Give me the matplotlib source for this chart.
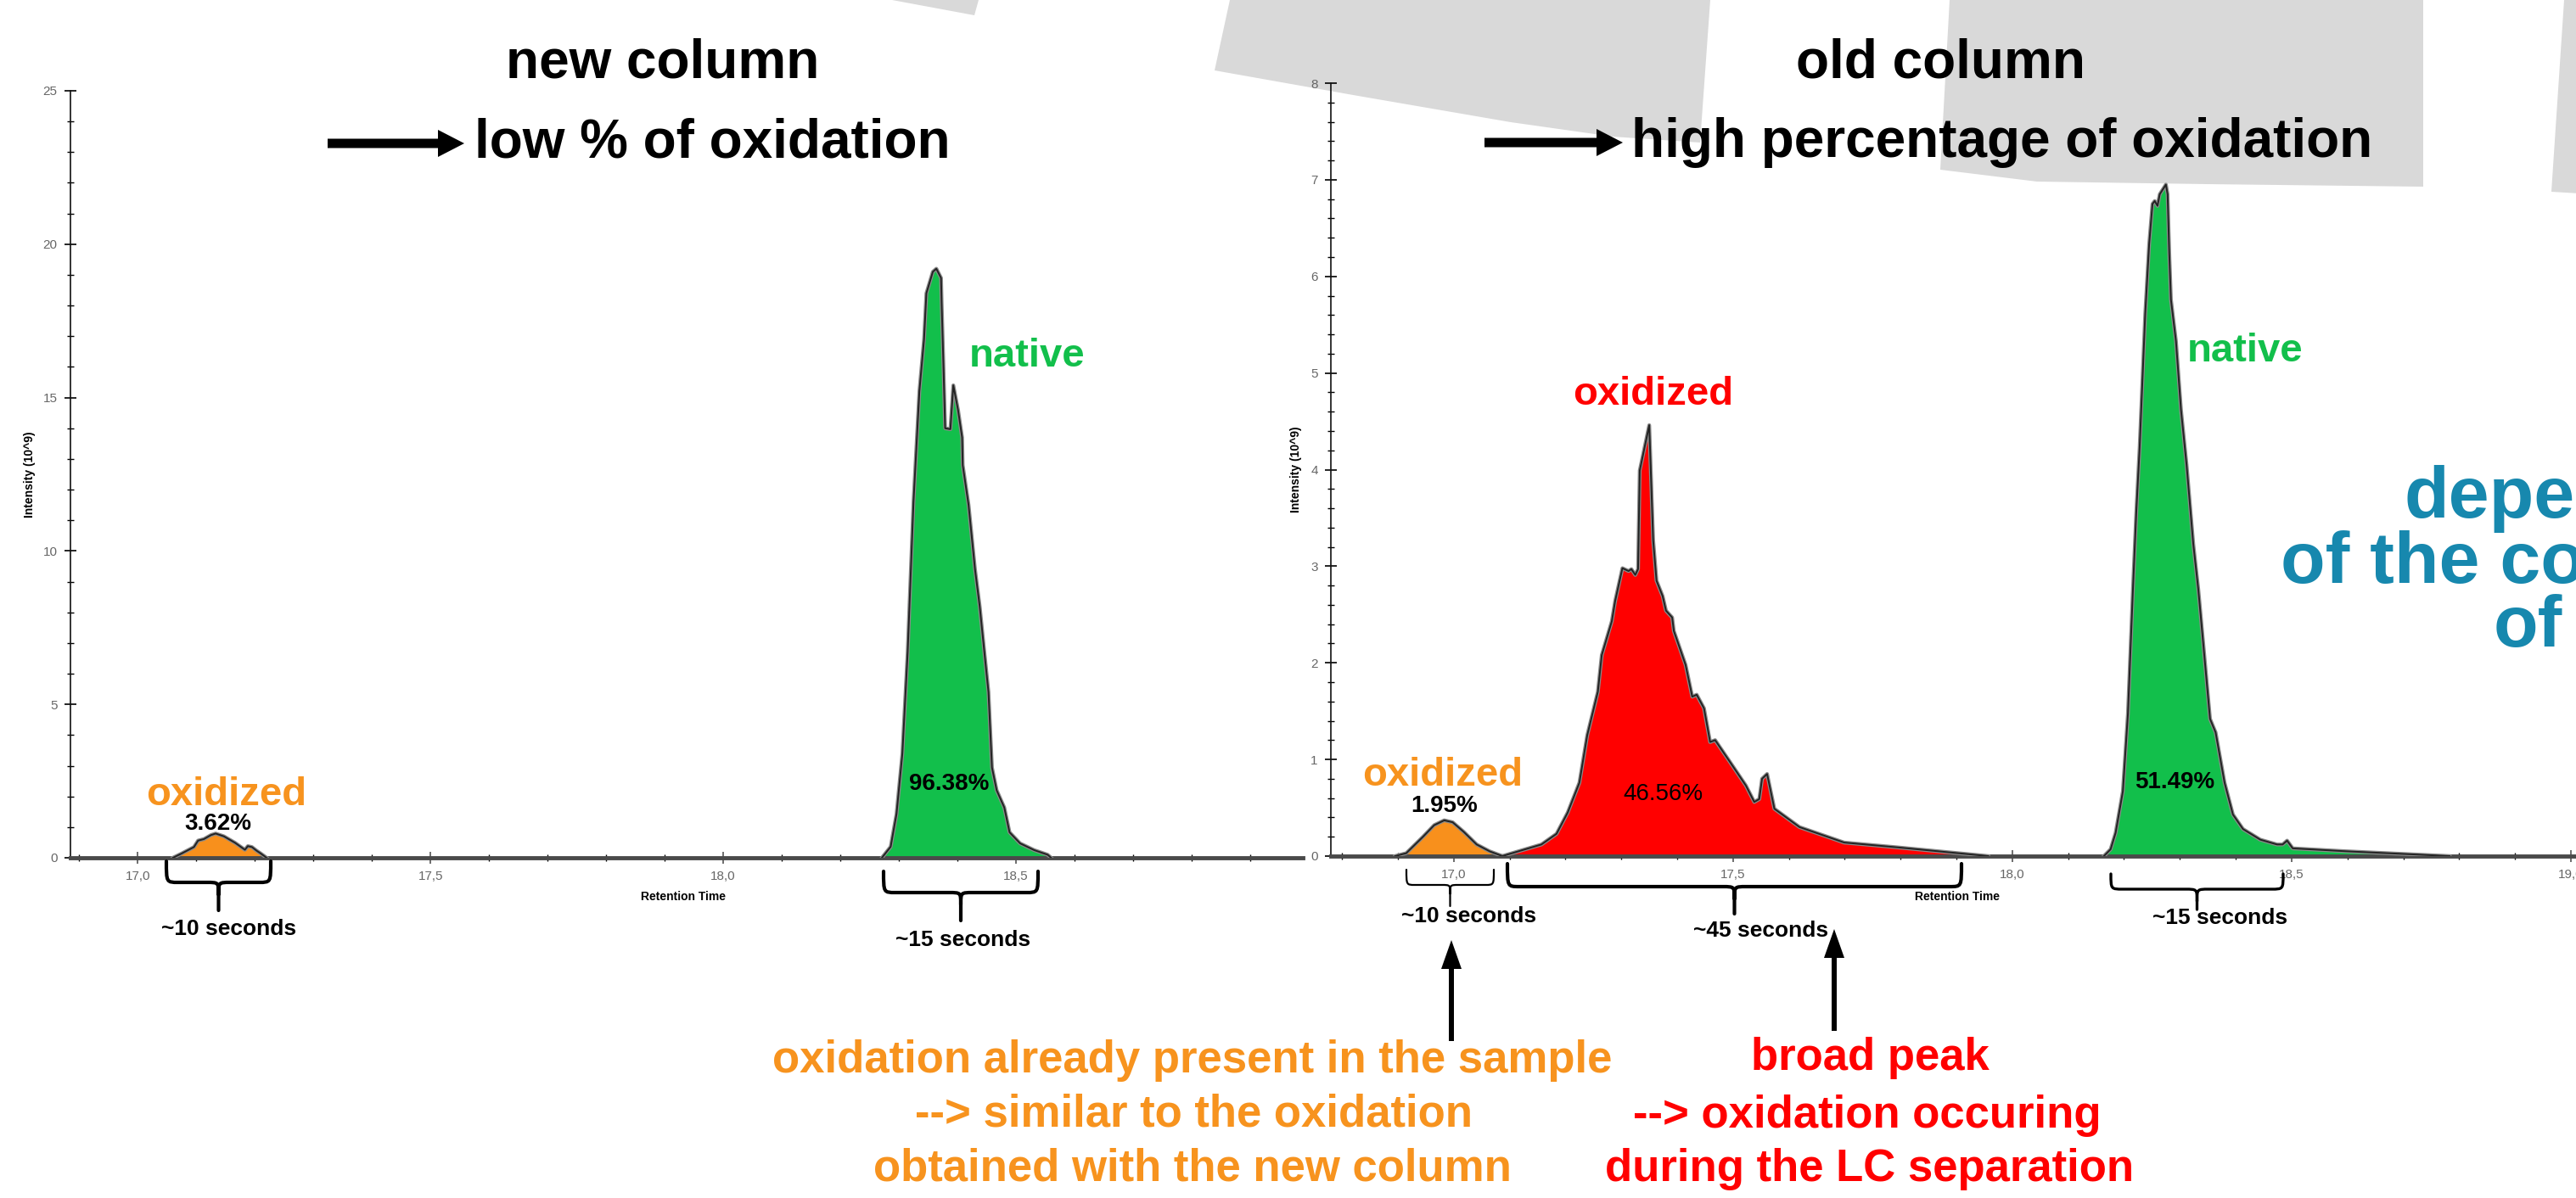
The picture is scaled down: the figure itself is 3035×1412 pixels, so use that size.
import numpy as np
import matplotlib
matplotlib.use("Agg")
import matplotlib.pyplot as plt
from matplotlib.patches import Polygon, PathPatch
from matplotlib.path import Path
from matplotlib.ticker import MultipleLocator, FixedLocator, FixedFormatter

plt.rcParams['font.family'] = ['Liberation Sans', 'DejaVu Sans']

W, H = 3035, 1412

# ---------------- data ----------------
# left panel: new column
left_ox_time = [17.060, 17.075, 17.087, 17.096, 17.103, 17.113, 17.125, 17.133, 17.147,
                17.166, 17.183, 17.188, 17.195, 17.203, 17.210, 17.220]
left_ox_int = [0.0, 0.14, 0.26, 0.35, 0.56, 0.61, 0.74, 0.79, 0.70,
               0.49, 0.26, 0.38, 0.35, 0.23, 0.14, 0.0]

left_nat_time = [18.271, 18.286, 18.296, 18.306, 18.315, 18.325, 18.335, 18.343, 18.347,
                 18.358, 18.364, 18.372, 18.373, 18.376, 18.379, 18.388, 18.393, 18.401,
                 18.408, 18.409, 18.419, 18.430, 18.438, 18.446, 18.453, 18.459, 18.467,
                 18.480, 18.489, 18.507, 18.531, 18.554, 18.560]
left_nat_int = [0.0, 0.36, 1.43, 3.4, 6.7, 11.6, 15.2, 16.9, 18.4,
                19.1, 19.2, 18.9, 18.1, 16.1, 14.0, 13.97, 15.4, 14.6,
                13.7, 12.8, 11.5, 9.4, 8.2, 6.7, 5.4, 2.94, 2.2,
                1.64, 0.83, 0.47, 0.25, 0.1, 0.0]

# right panel: old column
right_ox1_time = [16.895, 16.915, 16.945, 16.965, 16.983, 16.998, 17.018, 17.041, 17.064, 17.087]
right_ox1_int = [0.0, 0.03, 0.20, 0.32, 0.37, 0.35, 0.25, 0.12, 0.05, 0.0]

right_ox2_time = [17.087, 17.157, 17.184, 17.204, 17.225, 17.239, 17.258, 17.265, 17.283,
                  17.289, 17.302, 17.313, 17.318, 17.325, 17.330, 17.333, 17.350, 17.357,
                  17.363, 17.374, 17.380, 17.391, 17.394, 17.415, 17.427, 17.435, 17.448,
                  17.459, 17.468, 17.495, 17.523, 17.538, 17.547, 17.552, 17.561, 17.574,
                  17.619, 17.699, 17.795, 17.957]
right_ox2_int = [0.0, 0.12, 0.23, 0.45, 0.76, 1.25, 1.70, 2.08, 2.43,
                 2.64, 2.98, 2.95, 2.97, 2.91, 2.97, 3.99, 4.46, 3.27,
                 2.85, 2.69, 2.54, 2.47, 2.33, 1.98, 1.65, 1.67, 1.53,
                 1.18, 1.20, 0.97, 0.73, 0.56, 0.59, 0.80, 0.85, 0.49,
                 0.30, 0.14, 0.09, 0.0]

right_nat_time = [18.164, 18.176, 18.185, 18.198, 18.207, 18.216, 18.222, 18.228, 18.238,
                  18.245, 18.251, 18.255, 18.260, 18.264, 18.275, 18.278, 18.281, 18.284,
                  18.293, 18.302, 18.312, 18.324, 18.333, 18.342, 18.354, 18.364, 18.380,
                  18.395, 18.413, 18.444, 18.474, 18.484, 18.492, 18.502, 18.597, 18.783]
right_nat_int = [0.0, 0.07, 0.24, 0.67, 1.47, 2.76, 3.56, 4.23, 5.61,
                 6.33, 6.75, 6.78, 6.73, 6.85, 6.95, 6.85, 6.24, 5.76,
                 5.33, 4.62, 4.05, 3.23, 2.76, 2.19, 1.42, 1.28, 0.76,
                 0.43, 0.28, 0.17, 0.12, 0.12, 0.16, 0.08, 0.05, 0.0]

left_xticks = [17.0, 17.5, 18.0, 18.5]
left_xticklabels = ["17,0", "17,5", "18,0", "18,5"]
left_yticks = [0, 5, 10, 15, 20, 25]
right_xticks = [17.0, 17.5, 18.0, 18.5, 19.0]
right_xticklabels = ["17,0", "17,5", "18,0", "18,5", "19,0"]
right_yticks = [0, 1, 2, 3, 4, 5, 6, 7, 8]

# ---------------- style ----------------
ORANGE = '#F8901C'
ORANGE_T = '#F7931E'
GREEN = '#12BF4B'
RED = '#FF0000'
BLUE = '#1788AE'
GRAY_BG = '#D9D9D9'


def fx(x):
    return x / W


def fy(y):
    return 1 - y / H


def pts(lst):
    return [(fx(x), fy(y)) for x, y in lst]


fig = plt.figure(figsize=(W / 100, H / 100), dpi=100)
fig.patch.set_facecolor('white')

# background slide shapes
shapes = [
    [(1051, 0), (1153, 0), (1148, 18)],
    [(1449, 0), (2015, 0), (2003, 168), (1900, 161), (1780, 144), (1600, 113), (1431, 83)],
    [(2297, 0), (2855, 0), (2855, 220), (2600, 217), (2400, 214), (2286, 200)],
    [(3021, 0), (3040, 0), (3040, 228), (3006, 226)],
]
for s in shapes:
    fig.patches.append(Polygon(pts(s), closed=True, transform=fig.transFigure,
                               facecolor=GRAY_BG, edgecolor='none', zorder=-5))


def make_axes(x0, x1, y0, y1):
    ax = fig.add_axes([fx(x0), fy(y0), (x1 - x0) / W, (y0 - y1) / H])
    ax.set_zorder(2)
    ax.set_facecolor('none')
    ax.patch.set_alpha(0)
    for s in ['top', 'right']:
        ax.spines[s].set_visible(False)
    ax.spines['left'].set_color('#111111')
    ax.spines['left'].set_linewidth(1.2)
    ax.spines['bottom'].set_color('#4a4a4a')
    ax.spines['bottom'].set_linewidth(3.5)
    ax.tick_params(axis='both', which='major', direction='inout', length=10, width=1.2,
                   labelsize=11, labelcolor='#666666', pad=6)
    ax.tick_params(axis='both', which='minor', direction='inout', length=6, width=1.0)
    ax.tick_params(axis='x', colors='#555555', labelcolor='#666666')
    return ax


def draw_peak(ax, t, v, color):
    ax.fill_between(t, v, 0, color=color, lw=0, zorder=2)
    ax.plot(t, v, color='#8a8a8a', lw=3.2, zorder=3, solid_joinstyle='round')
    ax.plot(t, v, color='#222222', lw=1.4, zorder=4, solid_joinstyle='round')


# left panel
ax1 = make_axes(83, 1535, 1011, 107)
ax1.set_xlim(16.885, 18.99)
ax1.set_ylim(0, 25)
ax1.xaxis.set_major_locator(FixedLocator(left_xticks))
ax1.xaxis.set_major_formatter(FixedFormatter(left_xticklabels))
ax1.xaxis.set_minor_locator(MultipleLocator(0.1))
ax1.yaxis.set_major_locator(FixedLocator(left_yticks))
ax1.yaxis.set_minor_locator(MultipleLocator(1))
draw_peak(ax1, left_ox_time, left_ox_int, ORANGE)
draw_peak(ax1, left_nat_time, left_nat_int, GREEN)
ax1.set_ylabel('Intensity (10^9)', fontsize=10, fontweight='bold')
ax1.yaxis.set_label_coords(-0.028, 0.5)
ax1.set_xlabel('Retention Time', fontsize=10, fontweight='bold')
ax1.xaxis.set_label_coords(0.497, -0.043)

# right panel
ax2 = make_axes(1568, 3100, 1009, 98)
ax2.set_xlim(16.78, 19.108)
ax2.set_ylim(0, 8)
ax2.xaxis.set_major_locator(FixedLocator(right_xticks))
ax2.xaxis.set_major_formatter(FixedFormatter(right_xticklabels))
ax2.xaxis.set_minor_locator(MultipleLocator(0.1))
ax2.yaxis.set_major_locator(FixedLocator(right_yticks))
ax2.yaxis.set_minor_locator(MultipleLocator(0.2))
draw_peak(ax2, right_ox1_time, right_ox1_int, ORANGE)
draw_peak(ax2, right_ox2_time, right_ox2_int, RED)
draw_peak(ax2, right_nat_time, right_nat_int, GREEN)
ax2.set_ylabel('Intensity (10^9)', fontsize=10, fontweight='bold')
ax2.yaxis.set_label_coords(-0.022, 0.5)
ax2.set_xlabel('Retention Time', fontsize=10, fontweight='bold')
ax2.xaxis.set_label_coords(0.482, -0.045)


# ---------------- annotations ----------------
def txt(x, y, s, size, color='black', weight='bold', ha='center', va='center', **kw):
    fig.text(fx(x), fy(y), s, fontsize=size, color=color, fontweight=weight,
             ha=ha, va=va, zorder=10, **kw)


# titles
txt(781, 75, 'new column', 46)
txt(559, 169, 'low % of oxidation', 46, ha='left')
txt(2286, 75, 'old column', 46)
txt(1922, 168, 'high percentage of oxidation', 46, ha='left')


def h_arrow(x0, x1, y, t=11, hh=16, hl=31):
    xh = x1 - hl
    p = [(x0, y - t / 2), (xh, y - t / 2), (xh, y - hh), (x1, y), (xh, y + hh),
         (xh, y + t / 2), (x0, y + t / 2)]
    fig.patches.append(Polygon(pts(p), closed=True, transform=fig.transFigure,
                               facecolor='black', edgecolor='none', zorder=10))


def v_arrow(x, y0, y1, t=6, hw=12, hl=34):
    yh = y1 + hl
    p = [(x - t / 2, y0), (x - t / 2, yh), (x - hw, yh), (x, y1), (x + hw, yh),
         (x + t / 2, yh), (x + t / 2, y0)]
    fig.patches.append(Polygon(pts(p), closed=True, transform=fig.transFigure,
                               facecolor='black', edgecolor='none', zorder=10))


h_arrow(386, 547, 169)
h_arrow(1749, 1912, 168)
v_arrow(1710, 1227, 1108)
v_arrow(2161, 1215, 1095)


def brace(x0, x1, yt, ym, yp, lw=3.0, c=14):
    xc = (x0 + x1) / 2
    verts, codes = [], []
    for xe, sgn in ((x0, 1), (x1, -1)):
        seg = [(xe, yt), (xe, ym), (xe, ym), (xe + sgn * c, ym),
               (xc - sgn * c, ym), (xc, ym), (xc, ym), (xc, ym + c)]
        cds = [Path.MOVETO, Path.CURVE4, Path.CURVE4, Path.CURVE4,
               Path.LINETO, Path.CURVE4, Path.CURVE4, Path.CURVE4]
        verts += seg
        codes += cds
    verts += [(xc, ym + c), (xc, yp)]
    codes += [Path.MOVETO, Path.LINETO]
    path = Path(pts(verts), codes)
    fig.patches.append(PathPatch(path, transform=fig.transFigure, facecolor='none',
                                 edgecolor='black', lw=lw, zorder=10,
                                 capstyle='round', joinstyle='round'))


brace(196, 319, 1015, 1040, 1073)
brace(1041, 1223, 1027, 1052, 1085)
brace(1657, 1760, 1025, 1043, 1068, lw=1.6, c=10)
brace(1776, 2311, 1018, 1045, 1077)
brace(2487, 2690, 1030, 1048, 1072, lw=2.4)

txt(270, 1095, '~10 seconds', 19)
txt(1135, 1108, '~15 seconds', 19)
txt(1731, 1080, '~10 seconds', 19)
txt(2075, 1097, '~45 seconds', 19)
txt(2616, 1082, '~15 seconds', 19)

# peak labels
txt(267, 937, 'oxidized', 34, ORANGE_T)
txt(257, 971, '3.62%', 20)
txt(1210, 420, 'native', 34, GREEN)
txt(1118, 924, '96.38%', 20)
txt(1700, 914, 'oxidized', 34, ORANGE_T)
txt(1702, 950, '1.95%', 20)
txt(1948, 465, 'oxidized', 34, RED)
txt(1959, 936, '46.56%', 20, weight='normal')
txt(2645, 414, 'native', 34, GREEN)
txt(2562, 922, '51.49%', 20)

# bottom notes
txt(1405, 1250, 'oxidation already present in the sample', 38, ORANGE_T)
txt(1406, 1313, '--> similar to the oxidation', 38, ORANGE_T)
txt(1405, 1378, 'obtained with the new column', 38, ORANGE_T)
txt(2203, 1247, 'broad peak', 38, RED)
txt(2200, 1315, '--> oxidation occuring', 38, RED)
txt(2203, 1378, 'during the LC separation', 38, RED)

# partially visible note at the right edge (cut by the slide edge, as in the original)
txt(2832, 610, 'depe', 62, BLUE, ha='left', va='baseline')
txt(2687, 687, 'of the co', 62, BLUE, ha='left', va='baseline')
txt(2938, 762, 'of', 62, BLUE, ha='left', va='baseline')

fig.savefig('out.png', dpi=100)
